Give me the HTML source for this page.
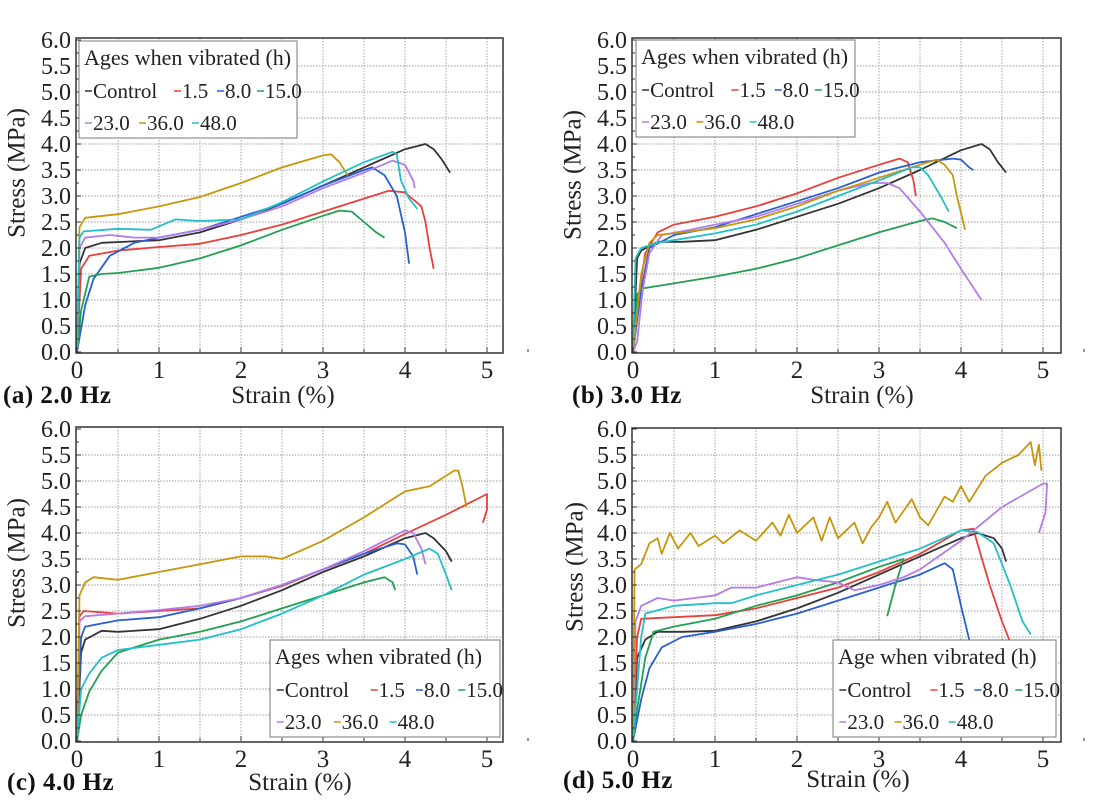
<!DOCTYPE html>
<html><head><meta charset="utf-8"><style>
html,body{margin:0;padding:0;background:#fff;}
svg{display:block;font-family:"Liberation Serif",serif;}
</style></head><body>
<svg id="chart" width="1100" height="805" viewBox="0 0 1100 805" xmlns="http://www.w3.org/2000/svg"></svg>
<script>
const seriesNames = ["Control","1.5","8.0","15.0","23.0","36.0","48.0"];
const seriesColors = ["#333333","#e8403a","#2a5fd0","#22a050","#b57be8","#c8960c","#22c0c8"];
const yTicks = ["0.0","0.5","1.0","1.5","2.0","2.5","3.0","3.5","4.0","4.5","5.0","5.5","6.0"];
const xTicks = ["0","1","2","3","4","5"];
const panelLabels = ["(a) 2.0 Hz","(b) 3.0 Hz","(c) 4.0 Hz","(d) 5.0 Hz"];

// panel a (2.0 Hz) : [strain, stress]
const a_control=[[0,0],[0.03,1.7],[0.1,2.0],[0.3,2.1],[1,2.15],[1.5,2.3],[2,2.55],[2.5,2.85],[3,3.2],[3.5,3.55],[4,3.9],[4.25,4.0],[4.35,3.9],[4.45,3.7],[4.55,3.45]];
const a_15=[[0,0],[0.05,1.6],[0.15,1.85],[0.5,1.95],[1,2.02],[1.5,2.08],[2,2.25],[2.5,2.45],[3,2.7],[3.5,2.95],[3.8,3.1],[4.0,3.07],[4.2,2.8],[4.25,2.5],[4.3,2.0],[4.35,1.6]];
const a_80=[[0,0],[0.1,0.9],[0.2,1.4],[0.4,1.85],[0.7,2.1],[1,2.2],[1.5,2.35],[2,2.6],[2.5,2.85],[3,3.2],[3.5,3.5],[3.6,3.55],[3.75,3.4],[3.9,3.0],[4.0,2.3],[4.05,1.7]];
const a_150=[[0,0],[0.05,0.8],[0.15,1.45],[0.3,1.5],[0.5,1.52],[1,1.62],[1.5,1.8],[2,2.05],[2.5,2.35],[3,2.62],[3.2,2.72],[3.35,2.7],[3.5,2.5],[3.65,2.3],[3.75,2.2]];
const a_230=[[0,0],[0.03,2.0],[0.1,2.2],[0.4,2.25],[0.7,2.2],[1,2.2],[1.5,2.35],[2,2.55],[2.5,2.8],[3,3.15],[3.5,3.45],[3.85,3.68],[4.0,3.6],[4.1,3.3],[4.12,3.15]];
const a_360=[[0,0],[0.03,2.4],[0.1,2.58],[0.5,2.65],[1,2.8],[1.5,2.98],[2,3.25],[2.5,3.55],[3,3.78],[3.1,3.8],[3.2,3.65],[3.3,3.4]];
const a_480=[[0,0],[0.03,2.2],[0.08,2.32],[0.5,2.37],[0.9,2.35],[1.2,2.55],[1.5,2.52],[2,2.55],[2.5,2.88],[3,3.28],[3.5,3.65],[3.85,3.85],[3.9,3.8],[3.95,3.3],[4.05,2.95],[4.15,2.75]];

// panel b (3.0 Hz)
const b_control=[[0,0],[0.05,1.8],[0.1,1.95],[0.3,2.12],[0.6,2.12],[1,2.15],[1.5,2.35],[2,2.6],[2.5,2.85],[3,3.15],[3.5,3.5],[4,3.88],[4.25,4.0],[4.35,3.9],[4.45,3.65],[4.55,3.45]];
const b_15=[[0,0],[0.08,1.2],[0.15,1.9],[0.3,2.3],[0.5,2.45],[1,2.6],[1.5,2.8],[2,3.05],[2.5,3.35],[3,3.6],[3.25,3.72],[3.35,3.65],[3.42,3.3],[3.45,3.0]];
const b_80=[[0,0],[0.1,1.2],[0.2,2.0],[0.5,2.25],[1,2.4],[1.5,2.65],[2,2.9],[2.5,3.15],[3,3.45],[3.5,3.65],[3.9,3.72],[4.0,3.7],[4.1,3.55],[4.15,3.5]];
const b_150=[[0,0],[0.05,1.1],[0.1,1.22],[0.5,1.32],[1,1.45],[1.5,1.6],[2,1.8],[2.5,2.05],[3,2.3],[3.5,2.52],[3.65,2.57],[3.8,2.5],[3.95,2.38]];
const b_230=[[0,0],[0.05,0.2],[0.12,1.2],[0.2,1.9],[0.35,2.25],[0.7,2.35],[1,2.45],[1.5,2.6],[2,2.85],[2.5,3.1],[2.9,3.25],[3.1,3.25],[3.25,3.15],[3.5,2.7],[3.8,2.1],[4.0,1.6],[4.25,1.0]];
const b_360=[[0,0],[0.1,1.5],[0.2,2.1],[0.3,2.25],[0.6,2.3],[1,2.38],[1.5,2.55],[2,2.8],[2.5,3.1],[3,3.35],[3.5,3.6],[3.7,3.7],[3.8,3.6],[3.9,3.4],[3.95,3.0],[4.05,2.35]];
const b_480=[[0,0],[0.03,1.8],[0.1,2.0],[0.3,2.1],[1,2.28],[1.5,2.45],[2,2.7],[2.5,3.0],[3,3.3],[3.4,3.55],[3.5,3.55],[3.6,3.4],[3.75,3.0],[3.85,2.7]];

// panel c (4.0 Hz)
const c_control=[[0,0],[0.05,1.7],[0.1,1.95],[0.3,2.12],[0.5,2.1],[1,2.15],[1.5,2.35],[2,2.6],[2.5,2.9],[3,3.25],[3.5,3.55],[4,3.9],[4.25,4.0],[4.35,3.9],[4.5,3.65],[4.57,3.45]];
const c_15=[[0,0],[0.03,2.4],[0.08,2.5],[0.5,2.45],[1,2.5],[1.5,2.55],[2,2.75],[2.5,2.98],[3,3.3],[3.5,3.6],[4,3.98],[4.5,4.35],[5,4.75],[5.0,4.45],[4.95,4.2]];
const c_80=[[0,0],[0.05,2.0],[0.1,2.2],[0.5,2.32],[1,2.38],[1.5,2.55],[2,2.75],[2.5,3.0],[3,3.3],[3.5,3.6],[3.9,3.8],[4.0,3.78],[4.1,3.55],[4.15,3.2]];
const c_150=[[0,0],[0.05,0.5],[0.15,0.95],[0.3,1.35],[0.5,1.7],[1,1.95],[1.5,2.1],[2,2.3],[2.5,2.55],[3,2.8],[3.5,3.05],[3.75,3.15],[3.85,3.05],[3.88,2.9]];
const c_230=[[0,0],[0.03,2.3],[0.1,2.4],[0.5,2.45],[1,2.52],[1.5,2.6],[2,2.75],[2.5,3.0],[3,3.3],[3.5,3.65],[4,4.05],[4.1,4.0],[4.2,3.7],[4.25,3.4]];
const c_360=[[0,0],[0.03,2.8],[0.1,3.05],[0.2,3.15],[0.5,3.1],[1,3.25],[1.5,3.4],[2,3.55],[2.3,3.55],[2.5,3.5],[3,3.85],[3.5,4.3],[4,4.8],[4.3,4.9],[4.6,5.2],[4.65,5.2],[4.7,4.9],[4.75,4.5]];
const c_480=[[0,0],[0.05,1.0],[0.15,1.3],[0.3,1.6],[0.5,1.75],[1,1.85],[1.5,1.95],[2,2.15],[2.5,2.45],[3,2.8],[3.5,3.2],[4,3.5],[4.3,3.7],[4.4,3.6],[4.5,3.2],[4.57,2.9]];

// panel d (5.0 Hz)
const d_control=[[0,0],[0.05,1.6],[0.15,1.95],[0.3,2.1],[0.6,2.1],[1,2.12],[1.5,2.3],[2,2.55],[2.5,2.85],[3,3.2],[3.5,3.55],[4,3.9],[4.2,4.0],[4.4,3.9],[4.5,3.7],[4.55,3.45]];
const d_15=[[0,0],[0.05,2.0],[0.1,2.35],[0.5,2.38],[1,2.42],[1.5,2.55],[2,2.75],[2.5,2.95],[3,3.25],[3.5,3.6],[4,4.05],[4.15,4.08],[4.2,3.8],[4.35,3.0],[4.5,2.3],[4.6,1.9]];
const d_80=[[0,0],[0.1,0.8],[0.2,1.4],[0.35,1.8],[0.6,2.0],[1,2.1],[1.5,2.25],[2,2.45],[2.5,2.7],[3,2.95],[3.5,3.2],[3.8,3.42],[3.9,3.3],[4.0,2.6],[4.1,1.95]];
const d_150=[[0,0],[0.05,0.6],[0.15,1.6],[0.25,2.1],[0.5,2.2],[1,2.35],[1.5,2.6],[2,2.8],[2.5,3.05],[3,3.35],[3.3,3.5],[3.2,3.0],[3.1,2.4]];
const d_230=[[0,0],[0.03,2.3],[0.1,2.6],[0.3,2.75],[0.5,2.7],[1,2.8],[1.2,2.95],[1.5,2.95],[2,3.15],[2.2,3.1],[2.5,3.05],[2.7,2.9],[3,3.0],[3.3,3.15],[3.5,3.3],[4,3.85],[4.5,4.5],[5,4.95],[5.05,4.95],[5.03,4.4],[4.95,4.0]];
const d_360=[[0,0],[0.02,3.3],[0.1,3.4],[0.2,3.8],[0.3,3.9],[0.35,3.6],[0.45,4.0],[0.55,3.7],[0.7,4.0],[0.8,3.75],[1,3.95],[1.1,3.8],[1.3,4.05],[1.5,3.85],[1.7,4.2],[1.8,3.95],[1.9,4.35],[2.0,4.0],[2.2,4.3],[2.3,3.85],[2.4,4.3],[2.5,3.9],[2.7,4.2],[2.8,3.8],[2.9,4.1],[3.0,4.3],[3.1,4.6],[3.2,4.2],[3.4,4.65],[3.5,4.3],[3.6,4.15],[3.8,4.7],[3.9,4.6],[4.0,4.9],[4.1,4.6],[4.3,5.1],[4.5,5.35],[4.7,5.5],[4.85,5.75],[4.9,5.3],[4.95,5.7],[4.98,5.2]];
const d_480=[[0,0],[0.05,1.0],[0.1,2.0],[0.15,2.45],[0.5,2.6],[1,2.65],[1.2,2.65],[1.5,2.8],[2,3.0],[2.5,3.2],[3,3.45],[3.5,3.7],[4,4.05],[4.2,4.02],[4.4,3.8],[4.6,3.0],[4.75,2.3],[4.85,2.05]];

const panelsData=[
 [a_control,a_15,a_80,a_150,a_230,a_360,a_480],
 [b_control,b_15,b_80,b_150,b_230,b_360,b_480],
 [c_control,c_15,c_80,c_150,c_230,c_360,c_480],
 [d_control,d_15,d_80,d_150,d_230,d_360,d_480]
];

const NS="http://www.w3.org/2000/svg";
const svg=document.getElementById("chart");
function el(tag,attrs,parent,text){const e=document.createElementNS(NS,tag);for(const k in attrs)e.setAttribute(k,attrs[k]);if(text!==undefined)e.textContent=text;(parent||svg).appendChild(e);return e;}

const layouts=[
 {x0:77,y0:352,boxL:76,boxR:503,boxT:38,lg:[79,41,218],lgTitle:"Ages when vibrated (h)",yt:[17,173],st:[283,403],pl:[3,403]},
 {x0:633,y0:352,boxL:632,boxR:1061,boxT:38,lg:[636,40,219],lgTitle:"Ages when vibrated (h)",yt:[573,175],st:[862,403],pl:[572,403]},
 {x0:77,y0:741,boxL:76,boxR:503,boxT:427,lg:[270,640,230],lgTitle:"Ages when vibrated (h)",yt:[17,563],st:[300,790],pl:[7,790]},
 {x0:633,y0:741,boxL:632,boxR:1061,boxT:428,lg:[833,640,223],lgTitle:"Age when vibrated (h)",yt:[575,567],st:[858,787],pl:[563,788]}
];
const XU=82, YU=52;
const legendX=[[14,103,146,186],[14,68,121]];

layouts.forEach((L,pi)=>{
  const xS=v=>L.x0+v*XU, yS=v=>L.y0-v*YU;
  const g=el("g",{});
  
  
  for(let i=1;i<=10;i++){const ln=el("line",{x1:xS(i*0.5),x2:xS(i*0.5),y1:L.boxT,y2:L.y0,stroke:"#9a9a9a","stroke-width":0.9,"stroke-dasharray":"1.5,1.5"},g);
    }
  for(let i=1;i<=11;i++){const ln=el("line",{x1:L.boxL,x2:L.boxR,y1:yS(i*0.5),y2:yS(i*0.5),stroke:"#9a9a9a","stroke-width":0.9,"stroke-dasharray":"1.5,1.5"},g);
    }
  panelsData[pi].forEach((pts,si)=>{
    const p=el("polyline",{points:pts.map(q=>xS(q[0]).toFixed(1)+","+yS(q[1]).toFixed(1)).join(" "),fill:"none",stroke:seriesColors[si],"stroke-width":1.8,"stroke-linejoin":"round"},g);
    
    
  });
  const bx=el("rect",{x:L.boxL,y:L.boxT,width:L.boxR-L.boxL,height:L.y0+1-L.boxT,fill:"none",stroke:"#333","stroke-width":1.5},g);
  
  yTicks.forEach((t,i)=>{const v=parseFloat(t);
    el("line",{x1:L.boxL,x2:L.boxL+5,y1:yS(v),y2:yS(v),stroke:"#333","stroke-width":1},g);
    if(i<yTicks.length-1) el("line",{x1:L.boxL,x2:L.boxL+3,y1:yS(v+0.25),y2:yS(v+0.25),stroke:"#333","stroke-width":1},g);
    const tx=el("text",{x:L.x0-6,y:yS(v)+8,"text-anchor":"end","font-size":24,fill:"#222"},g,t);
    });
  xTicks.forEach(t=>{const v=parseFloat(t);
    el("line",{x1:xS(v),x2:xS(v),y1:L.y0,y2:L.y0-5,stroke:"#333","stroke-width":1},g);
    el("line",{x1:xS(v+0.5),x2:xS(v+0.5),y1:L.y0,y2:L.y0-3,stroke:"#333","stroke-width":1},g);
    const tx=el("text",{x:xS(v),y:L.y0+26,"text-anchor":"middle","font-size":25,fill:"#222"},g,t);
    });
  const yt=el("text",{x:L.yt[0],y:L.yt[1],"text-anchor":"middle","font-size":25,fill:"#222",transform:`rotate(-90 ${L.yt[0]} ${L.yt[1]})`,"dominant-baseline":"central"},g,"Stress (MPa)");
  
  const st=el("text",{x:L.st[0],y:L.st[1],"text-anchor":"middle","font-size":25,fill:"#222"},g,"Strain (%)");
  
  const pl=el("text",{x:L.pl[0],y:L.pl[1],"font-size":25,"font-weight":"bold",fill:"#111","letter-spacing":"0.5"},g,panelLabels[pi]);
  
  const [lx,ly,lw]=L.lg;
  const lg=el("g",{},g);
  
  el("rect",{x:lx,y:ly,width:lw,height:97,fill:"#fff",stroke:"#777","stroke-width":1},lg);
  const sc=lw/218;
  el("text",{x:lx+5,y:ly+24,"font-size":22,fill:"#222"},lg,L.lgTitle);
  seriesNames.forEach((n,si)=>{
    const row=si<4?0:1, col=si<4?si:si-4;
    const tx=lx+legendX[row][col]*sc, ty=ly+(row?89:57);
    const e=el("g",{},lg);
    
    
    el("line",{x1:tx-8,x2:tx-1,y1:ty-7,y2:ty-7,stroke:seriesColors[si],"stroke-width":1.5},e);
    el("text",{x:tx,y:ty,"font-size":21,fill:"#222"},e,n);
  });
});
</script>
</body></html>
